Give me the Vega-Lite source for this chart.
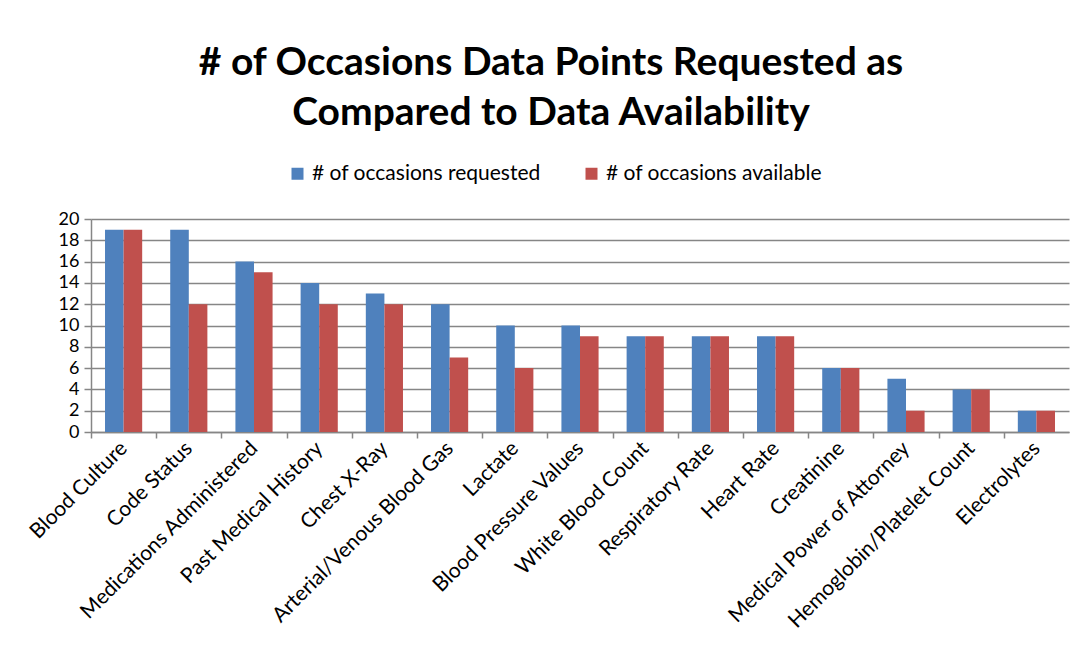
{
  "$schema": "https://vega.github.io/schema/vega-lite/v6.json",
  "width": 978,
  "height": 213,
  "autosize": {"type": "none"},
  "padding": {"left": 91, "top": 219, "right": 15, "bottom": 223},
  "background": "white",
  "title": {
    "text": ["# of Occasions Data Points Requested as", "Compared to Data Availability"],
    "font": "Lato",
    "fontSize": 39,
    "fontWeight": "bold",
    "color": "black",
    "anchor": "middle",
    "dx": -29,
    "lineHeight": 50,
    "offset": 30
  },
  "data": {
    "values": [
      {"item": "Blood Culture", "series": "# of occasions requested", "value": 19},
      {"item": "Blood Culture", "series": "# of occasions available", "value": 19},
      {"item": "Code Status", "series": "# of occasions requested", "value": 19},
      {"item": "Code Status", "series": "# of occasions available", "value": 12},
      {"item": "Medications Administered", "series": "# of occasions requested", "value": 16},
      {"item": "Medications Administered", "series": "# of occasions available", "value": 15},
      {"item": "Past Medical History", "series": "# of occasions requested", "value": 14},
      {"item": "Past Medical History", "series": "# of occasions available", "value": 12},
      {"item": "Chest X-Ray", "series": "# of occasions requested", "value": 13},
      {"item": "Chest X-Ray", "series": "# of occasions available", "value": 12},
      {"item": "Arterial/Venous Blood Gas", "series": "# of occasions requested", "value": 12},
      {"item": "Arterial/Venous Blood Gas", "series": "# of occasions available", "value": 7},
      {"item": "Lactate", "series": "# of occasions requested", "value": 10},
      {"item": "Lactate", "series": "# of occasions available", "value": 6},
      {"item": "Blood Pressure Values", "series": "# of occasions requested", "value": 10},
      {"item": "Blood Pressure Values", "series": "# of occasions available", "value": 9},
      {"item": "White Blood Count", "series": "# of occasions requested", "value": 9},
      {"item": "White Blood Count", "series": "# of occasions available", "value": 9},
      {"item": "Respiratory Rate", "series": "# of occasions requested", "value": 9},
      {"item": "Respiratory Rate", "series": "# of occasions available", "value": 9},
      {"item": "Heart Rate", "series": "# of occasions requested", "value": 9},
      {"item": "Heart Rate", "series": "# of occasions available", "value": 9},
      {"item": "Creatinine", "series": "# of occasions requested", "value": 6},
      {"item": "Creatinine", "series": "# of occasions available", "value": 6},
      {"item": "Medical Power of Attorney", "series": "# of occasions requested", "value": 5},
      {"item": "Medical Power of Attorney", "series": "# of occasions available", "value": 2},
      {"item": "Hemoglobin/Platelet Count", "series": "# of occasions requested", "value": 4},
      {"item": "Hemoglobin/Platelet Count", "series": "# of occasions available", "value": 4},
      {"item": "Electrolytes", "series": "# of occasions requested", "value": 2},
      {"item": "Electrolytes", "series": "# of occasions available", "value": 2}
    ]
  },
  "mark": {"type": "bar"},
  "encoding": {
    "x": {
      "field": "item",
      "type": "nominal",
      "sort": null,
      "scale": {"paddingInner": 0.43, "paddingOuter": 0.215},
      "axis": {
        "title": null,
        "labelAngle": -45,
        "labelAlign": "right",
        "labelBaseline": "middle",
        "labelFont": "Lato",
        "labelFontSize": 21,
        "labelColor": "black",
        "labelPadding": 7,
        "tickOffset": -32.6,
        "labelOffset": 32.6,
        "tickSize": 6,
        "tickColor": "#868686",
        "tickWidth": 1.5,
        "domainColor": "#868686",
        "domainWidth": 1.5,
        "labelOverlap": false,
        "labelLimit": 400
      }
    },
    "xOffset": {
      "field": "series",
      "type": "nominal",
      "sort": ["# of occasions requested", "# of occasions available"],
      "scale": {"paddingInner": 0, "paddingOuter": 0}
    },
    "y": {
      "field": "value",
      "type": "quantitative",
      "scale": {"domain": [0, 20], "nice": false},
      "axis": {
        "title": null,
        "values": [0, 2, 4, 6, 8, 10, 12, 14, 16, 18, 20],
        "labelFont": "Lato",
        "labelFontSize": 18,
        "labelColor": "black",
        "labelPadding": 5,
        "tickSize": 7,
        "tickColor": "#868686",
        "tickWidth": 1.5,
        "domainColor": "#868686",
        "domainWidth": 1.5,
        "grid": true,
        "gridColor": "#868686",
        "gridWidth": 1.5
      }
    },
    "color": {
      "field": "series",
      "type": "nominal",
      "sort": ["# of occasions requested", "# of occasions available"],
      "scale": {"range": ["#4F81BD", "#C0504D"]},
      "legend": {
        "title": null,
        "orient": "none",
        "direction": "horizontal",
        "legendX": 196,
        "legendY": -56,
        "symbolType": "square",
        "symbolSize": 144,
        "symbolStrokeWidth": 0,
        "labelFont": "Lato",
        "labelFontSize": 21,
        "labelColor": "black",
        "labelLimit": 400,
        "columnPadding": 40,
        "labelOffset": 4
      }
    }
  },
  "config": {
    "view": {"stroke": null}
  }
}
